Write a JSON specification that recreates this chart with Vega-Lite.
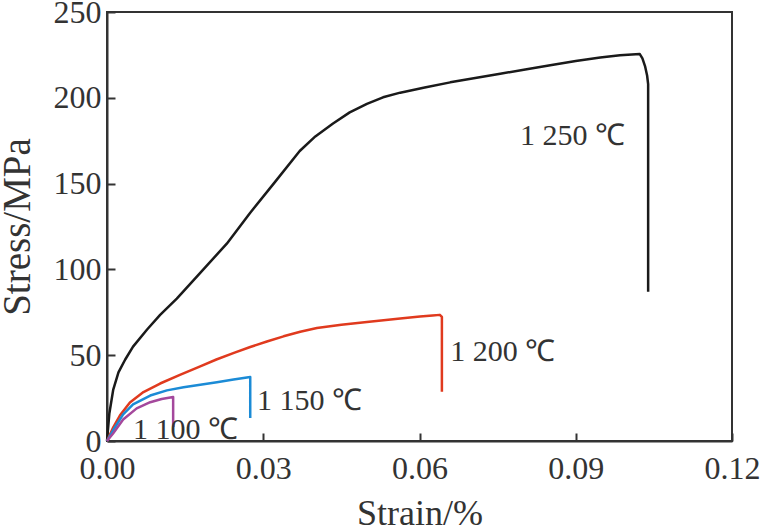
{
  "$schema": "https://vega.github.io/schema/vega-lite/v6.json",
  "width": 625,
  "height": 429,
  "autosize": {"type": "none"},
  "padding": {"left": 107, "top": 12, "right": 30, "bottom": 84},
  "background": "white",
  "config": {
    "view": {"stroke": "#333", "strokeWidth": 2},
    "font": "Liberation Serif",
    "axis": {
      "domainColor": "#333",
      "domainWidth": 2,
      "tickColor": "#333",
      "tickWidth": 2,
      "tickSize": -8,
      "grid": false,
      "labelFont": "Liberation Serif",
      "labelFontSize": 32,
      "labelColor": "#333",
      "titleFont": "Liberation Serif",
      "titleFontSize": 36,
      "titleFontWeight": "normal",
      "titleColor": "#333"
    }
  },
  "datasets": {
    "curves": [
      {"temp": "1250", "strain": 0, "stress": 0},
      {"temp": "1250", "strain": 0.00045, "stress": 16},
      {"temp": "1250", "strain": 0.0012, "stress": 30},
      {"temp": "1250", "strain": 0.0022, "stress": 40},
      {"temp": "1250", "strain": 0.0035, "stress": 47.5},
      {"temp": "1250", "strain": 0.005, "stress": 55},
      {"temp": "1250", "strain": 0.0077, "stress": 65},
      {"temp": "1250", "strain": 0.0102, "stress": 73.5},
      {"temp": "1250", "strain": 0.0134, "stress": 83},
      {"temp": "1250", "strain": 0.0179, "stress": 98},
      {"temp": "1250", "strain": 0.023, "stress": 115},
      {"temp": "1250", "strain": 0.0275, "stress": 133},
      {"temp": "1250", "strain": 0.032, "stress": 150},
      {"temp": "1250", "strain": 0.037, "stress": 169},
      {"temp": "1250", "strain": 0.040, "stress": 177.5},
      {"temp": "1250", "strain": 0.0434, "stress": 185},
      {"temp": "1250", "strain": 0.0466, "stress": 191.5},
      {"temp": "1250", "strain": 0.0499, "stress": 196.5},
      {"temp": "1250", "strain": 0.053, "stress": 200.3},
      {"temp": "1250", "strain": 0.0563, "stress": 203},
      {"temp": "1250", "strain": 0.061, "stress": 206},
      {"temp": "1250", "strain": 0.0659, "stress": 209},
      {"temp": "1250", "strain": 0.0707, "stress": 211.5},
      {"temp": "1250", "strain": 0.0755, "stress": 214},
      {"temp": "1250", "strain": 0.0803, "stress": 216.5},
      {"temp": "1250", "strain": 0.0851, "stress": 219},
      {"temp": "1250", "strain": 0.09, "stress": 221.5},
      {"temp": "1250", "strain": 0.0947, "stress": 223.5},
      {"temp": "1250", "strain": 0.0985, "stress": 224.8},
      {"temp": "1250", "strain": 0.1023, "stress": 225.5},
      {"temp": "1250", "strain": 0.1028, "stress": 223},
      {"temp": "1250", "strain": 0.1033, "stress": 218.5},
      {"temp": "1250", "strain": 0.1037, "stress": 213},
      {"temp": "1250", "strain": 0.1039, "stress": 208},
      {"temp": "1250", "strain": 0.1039, "stress": 87},
      {"temp": "1200", "strain": 0, "stress": 0},
      {"temp": "1200", "strain": 0.0012, "stress": 8},
      {"temp": "1200", "strain": 0.0025, "stress": 15},
      {"temp": "1200", "strain": 0.0044, "stress": 22.5},
      {"temp": "1200", "strain": 0.007, "stress": 28.5},
      {"temp": "1200", "strain": 0.0102, "stress": 33.5},
      {"temp": "1200", "strain": 0.014, "stress": 38.5},
      {"temp": "1200", "strain": 0.0179, "stress": 43.5},
      {"temp": "1200", "strain": 0.021, "stress": 47.5},
      {"temp": "1200", "strain": 0.0245, "stress": 51.5},
      {"temp": "1200", "strain": 0.0275, "stress": 54.8},
      {"temp": "1200", "strain": 0.0307, "stress": 58},
      {"temp": "1200", "strain": 0.0339, "stress": 61},
      {"temp": "1200", "strain": 0.0371, "stress": 63.7},
      {"temp": "1200", "strain": 0.0403, "stress": 65.8},
      {"temp": "1200", "strain": 0.045, "stress": 67.8},
      {"temp": "1200", "strain": 0.0499, "stress": 69.4},
      {"temp": "1200", "strain": 0.0563, "stress": 71.4},
      {"temp": "1200", "strain": 0.0601, "stress": 72.5},
      {"temp": "1200", "strain": 0.0625, "stress": 73.2},
      {"temp": "1200", "strain": 0.0639, "stress": 73.5},
      {"temp": "1200", "strain": 0.0643, "stress": 72.3},
      {"temp": "1200", "strain": 0.0643, "stress": 28.7},
      {"temp": "1150", "strain": 0, "stress": 0},
      {"temp": "1150", "strain": 0.0012, "stress": 6.4},
      {"temp": "1150", "strain": 0.0031, "stress": 15.5},
      {"temp": "1150", "strain": 0.005, "stress": 21.3},
      {"temp": "1150", "strain": 0.0083, "stress": 26.5},
      {"temp": "1150", "strain": 0.0115, "stress": 29.5},
      {"temp": "1150", "strain": 0.0147, "stress": 31.3},
      {"temp": "1150", "strain": 0.0179, "stress": 32.8},
      {"temp": "1150", "strain": 0.0211, "stress": 34.3},
      {"temp": "1150", "strain": 0.0243, "stress": 35.8},
      {"temp": "1150", "strain": 0.0275, "stress": 37.3},
      {"temp": "1150", "strain": 0.0275, "stress": 13.4},
      {"temp": "1100", "strain": 0, "stress": 0},
      {"temp": "1100", "strain": 0.0012, "stress": 4.5},
      {"temp": "1100", "strain": 0.0031, "stress": 12.5},
      {"temp": "1100", "strain": 0.0057, "stress": 19},
      {"temp": "1100", "strain": 0.0083, "stress": 22.6},
      {"temp": "1100", "strain": 0.0105, "stress": 24.5},
      {"temp": "1100", "strain": 0.0127, "stress": 25.6},
      {"temp": "1100", "strain": 0.0127, "stress": 8.2}
    ],
    "labels": [
      {"label": "1 250 ℃", "strain": 0.0793, "stress": 178},
      {"label": "1 200 ℃", "strain": 0.0659, "stress": 52},
      {"label": "1 150 ℃", "strain": 0.0288, "stress": 23.3},
      {"label": "1 100 ℃", "strain": 0.005, "stress": 6.4}
    ]
  },
  "layer": [
    {
      "data": {"name": "curves"},
      "mark": {"type": "line", "strokeWidth": 2.5, "strokeCap": "butt", "strokeJoin": "round"},
      "encoding": {
        "x": {
          "field": "strain", "type": "quantitative",
          "scale": {"domain": [0, 0.12], "nice": false, "zero": false},
          "axis": {"values": [0, 0.03, 0.06, 0.09, 0.12], "format": ".2f", "title": "Strain/%", "labelPadding": 20, "titlePadding": 12, "labelFlush": false}
        },
        "y": {
          "field": "stress", "type": "quantitative",
          "scale": {"domain": [0, 250], "nice": false},
          "axis": {"values": [0, 50, 100, 150, 200, 250], "title": "Stress/MPa", "titleFontSize": 39, "labelPadding": 14, "titlePadding": 16, "labelFlush": false}
        },
        "color": {
          "field": "temp", "type": "nominal",
          "scale": {"domain": ["1250", "1200", "1150", "1100"], "range": ["#1a1a1a", "#e03a1e", "#1b8bd6", "#a4489c"]},
          "legend": null
        },
        "order": {"value": null}
      }
    },
    {
      "data": {"name": "labels"},
      "mark": {"type": "text", "align": "left", "baseline": "middle", "fontSize": 30, "font": "Liberation Serif", "color": "#333"},
      "encoding": {
        "x": {"field": "strain", "type": "quantitative"},
        "y": {"field": "stress", "type": "quantitative"},
        "text": {"field": "label"}
      }
    }
  ]
}
